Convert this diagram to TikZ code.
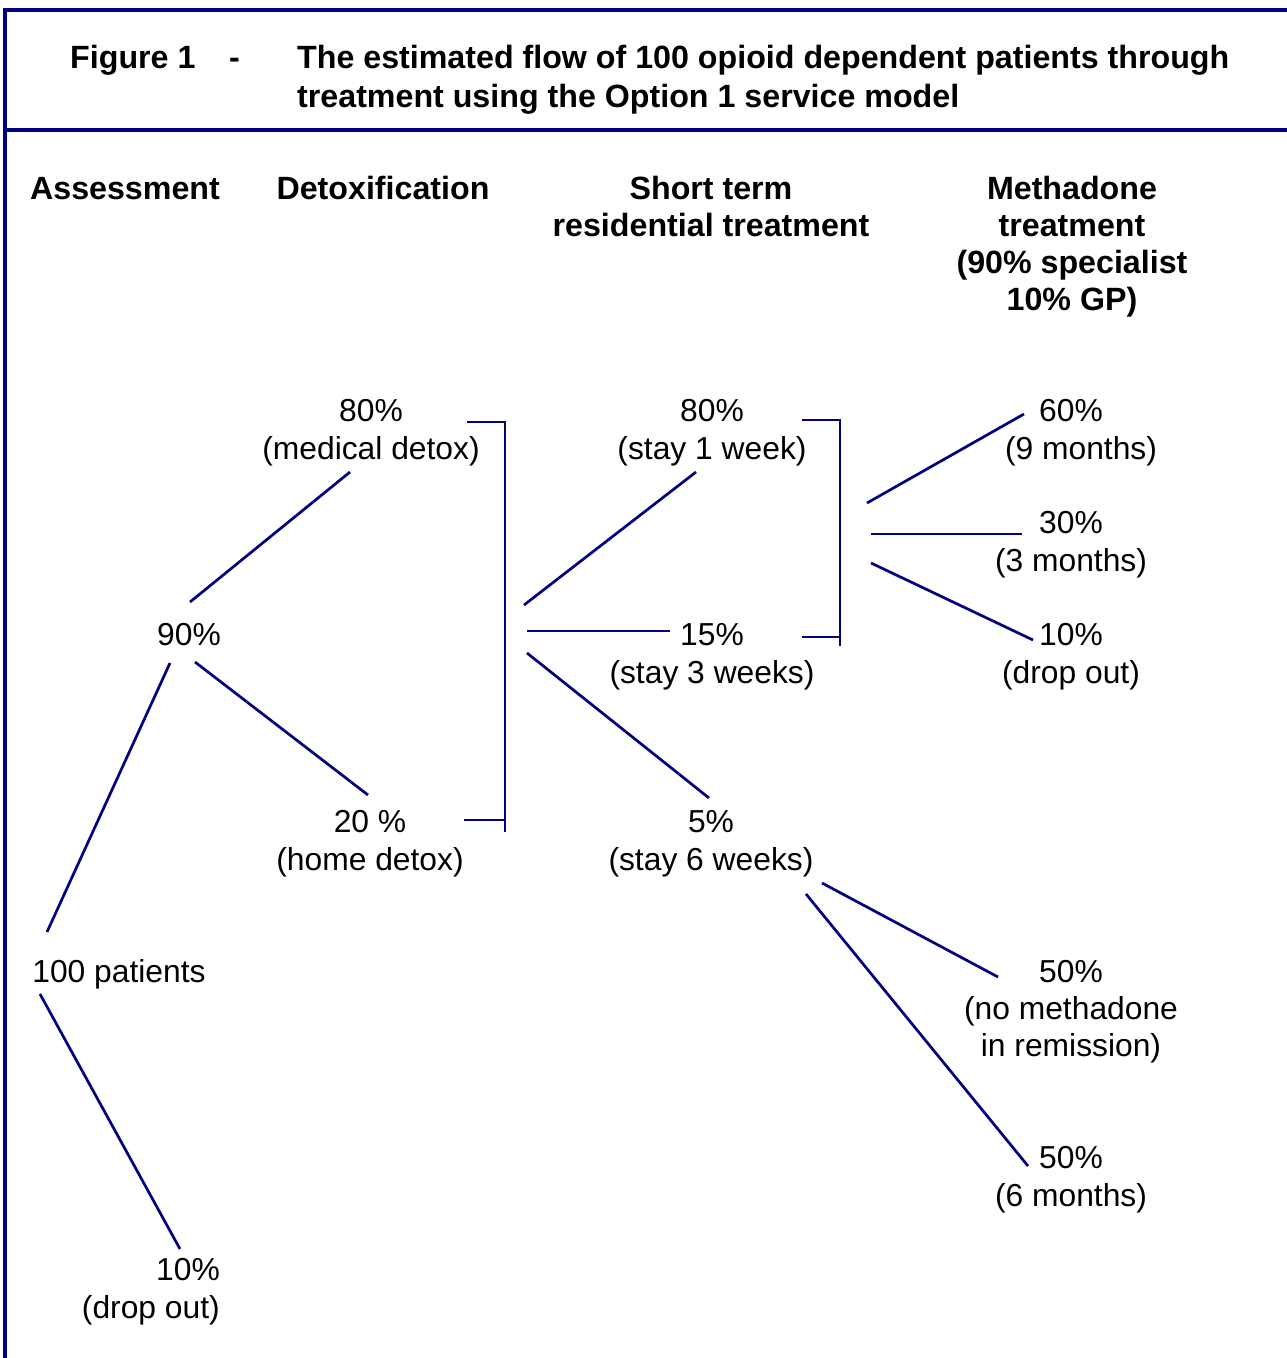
\documentclass[tikz,border=0pt]{standalone}
\usepackage{fontspec}
\setmainfont{Liberation Sans}
\definecolor{navy}{RGB}{0,0,128}
\begin{document}
\begin{tikzpicture}[x=1pt,y=-1pt,
  lbl/.style={font=\fontsize{31.8}{38}\selectfont, inner sep=0pt, align=center, anchor=base},
  hdr/.style={font=\bfseries\fontsize{32.2}{37}\selectfont, inner sep=0pt, align=center, anchor=base},
  ttl/.style={font=\bfseries\fontsize{32.2}{39}\selectfont, inner sep=0pt, anchor=base west, align=left},
  conn/.style={draw=navy, line width=2.7pt},
  framel/.style={draw=navy, line width=3.2pt}]
\useasboundingbox (0,0) rectangle (1287,1358);
% frame
\draw[framel] (1287,10) -- (5,10) -- (5,1358);
\draw[framel] (5,130) -- (1287,130);
% title
\node[ttl] (fig) at (70,68) {Figure 1};
\node[ttl] (dsh) at (229,68) {-};
\node[ttl] (title) at (297,107) {The estimated flow of 100 opioid dependent patients through\\treatment using the Option 1 service model};
% headers
\node[hdr] (hA) at (125,199) {Assessment};
\node[hdr] (hD) at (383,199) {Detoxification};
\node[hdr] (hS) at (711,236) {Short term\\residential treatment};
\node[hdr] (hM) at (1072,310) {Methadone\\treatment\\(90\% specialist\\10\% GP)};
% labels
\node[lbl] (med) at (371,459) {80\%\\(medical detox)};
\node[lbl] (n90) at (189,645) {90\%};
\node[lbl] (home) at (370,870) {20 \%\\(home detox)};
\node[lbl] (pat) at (119,982) {100 patients};
\node[lbl, align=right, anchor=base east] (drop1) at (220,1318) {10\%\\(drop out)};
\node[lbl] (w1) at (712,459) {80\%\\(stay 1 week)};
\node[lbl] (w3) at (712,683) {15\%\\(stay 3 weeks)};
\node[lbl] (w6) at (711,870) {5\%\\(stay 6 weeks)};
\node[lbl] (m9) at (1071,459) {60\%\\\hspace*{20pt}(9 months)};
\node[lbl] (m3) at (1071,571) {30\%\\(3 months)};
\node[lbl] (mdrop) at (1071,683) {10\%\\(drop out)};
\node[lbl, font=\fontsize{31.8}{37}\selectfont] (rem) at (1071,1056) {50\%\\(no methadone\\in remission)};
\node[lbl] (m6) at (1071,1206) {50\%\\(6 months)};
% connector end points
\coordinate (patU) at (47,932);
\coordinate (n90D) at (170,663);
\coordinate (patD) at (40,994);
\coordinate (dropU) at (180,1249);
\coordinate (n90U) at (190,602);
\coordinate (medD) at (350,472);
\coordinate (n90R) at (195,662);
\coordinate (homeU) at (368,795);
% detox bracket
\coordinate (bd1) at (467,422);
\coordinate (bd2) at (505,422);
\coordinate (bd3) at (505,832);
\coordinate (bd4) at (464,820);
\coordinate (bd5) at (505,820);
\coordinate (sA) at (524,605);
\coordinate (w1D) at (696,472);
\coordinate (sB) at (527,631);
\coordinate (w3L) at (670,631);
\coordinate (sC) at (527,653);
\coordinate (w6U) at (709,798);
% short-term bracket
\coordinate (bs1) at (802,420);
\coordinate (bs2) at (840,420);
\coordinate (bs3) at (840,646);
\coordinate (bs4) at (802,637);
\coordinate (bs5) at (840,637);
\coordinate (mA) at (867,503);
\coordinate (m9L) at (1024,414);
\coordinate (mB) at (871,534);
\coordinate (m3L) at (1022,534);
\coordinate (mC) at (871,563);
\coordinate (mdL) at (1033,640);
% 6 weeks outcomes
\coordinate (w6A) at (822,883);
\coordinate (remL) at (998,977);
\coordinate (w6B) at (806,894);
\coordinate (m6L) at (1028,1166);
% connectors
\draw[conn] (patU) -- (n90D);
\draw[conn] (patD) -- (dropU);
\draw[conn] (n90U) -- (medD);
\draw[conn] (n90R) -- (homeU);
\draw[conn] (bd1) -- (bd2) -- (bd3);
\draw[conn] (bd4) -- (bd5);
\draw[conn] (sA) -- (w1D);
\draw[conn] (sB) -- (w3L);
\draw[conn] (sC) -- (w6U);
\draw[conn] (bs1) -- (bs2) -- (bs3);
\draw[conn] (bs4) -- (bs5);
\draw[conn] (mA) -- (m9L);
\draw[conn] (mB) -- (m3L);
\draw[conn] (mC) -- (mdL);
\draw[conn] (w6A) -- (remL);
\draw[conn] (w6B) -- (m6L);
\end{tikzpicture}
\end{document}
